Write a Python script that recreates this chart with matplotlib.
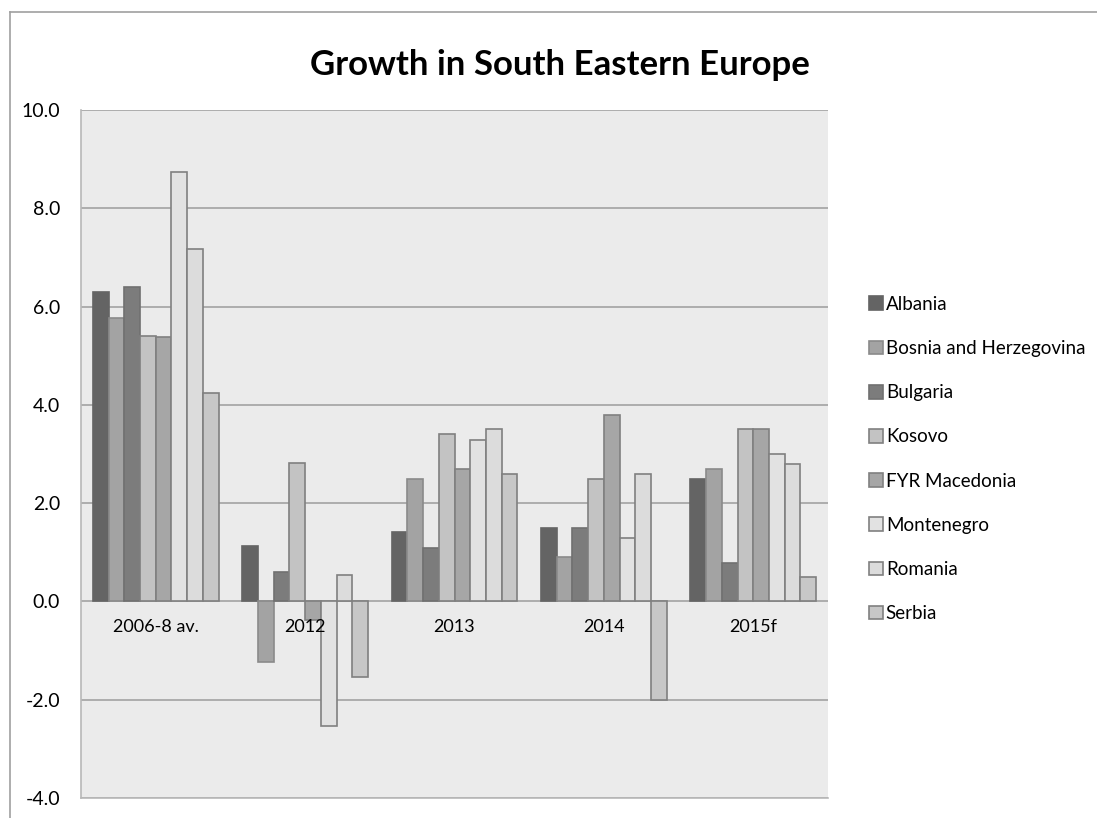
import matplotlib
matplotlib.use("Agg")
import matplotlib.pyplot as plt
import numpy as np
from matplotlib.lines import Line2D

categories = ["2006-8 av.", "2012", "2013", "2014", "2015f"]
countries = ["Albania", "Bosnia and Herzegovina", "Bulgaria", "Kosovo",
             "FYR Macedonia", "Montenegro", "Romania", "Serbia"]
albania = [6.29, 1.13, 1.41, 1.5, 2.5]
bosnia = [5.77, -1.23, 2.49, 0.9, 2.69]
bulgaria = [6.39, 0.6, 1.08, 1.5, 0.79]
kosovo = [5.41, 2.82, 3.4, 2.5, 3.5]
macedonia = [5.39, -0.38, 2.69, 3.8, 3.5]
montenegro = [8.74, -2.54, 3.29, 1.3, 3.0]
romania = [7.18, 0.54, 3.5, 2.6, 2.8]
serbia = [4.25, -1.53, 2.6, -2.0, 0.5]
yticks = [-4.0, -2.0, 0.0, 2.0, 4.0, 6.0, 8.0, 10.0]

series = [albania, bosnia, bulgaria, kosovo, macedonia, montenegro, romania, serbia]
fills = ["#646464", "#a3a3a3", "#7c7c7c", "#c3c3c3", "#a6a6a6", "#e2e2e2", "#dcdcdc", "#c7c7c7"]
edges = ["#646464", "#8a8a8a", "#707070", "#808080", "#808080", "#808080", "#808080", "#808080"]

plt.rcParams['font.family'] = ['Lato', 'DejaVu Sans']
fig = plt.figure(figsize=(10.97, 8.18), dpi=100)
ax = fig.add_axes([81 / 1097, 1 - 798 / 818, (828 - 81) / 1097, (798 - 110) / 818])
ax.set_facecolor("#ebebeb")

n = len(series)
gap = 1.5
w = 1.0 / (n + gap)
x = np.arange(len(categories))
for i, (vals, fc, ec, name) in enumerate(zip(series, fills, edges, countries)):
    offs = (i - (n - 1) / 2) * w
    ax.bar(x + offs, vals, width=w, color=fc, edgecolor=ec, linewidth=1.2,
           label=name, zorder=3)

ax.set_xlim(-0.5, len(categories) - 0.5)
ax.set_ylim(-4, 10)
ax.set_yticks(yticks)
ax.set_yticklabels([f"{v:.1f}" for v in yticks], fontsize=14)
ax.tick_params(axis='y', length=0, pad=15)
ax.tick_params(axis='x', length=0, labelbottom=False)
ax.yaxis.grid(True, color="#a8a8a8", linewidth=1.3, zorder=1)
for s in ax.spines.values():
    s.set_color("#b8b8b8")
    s.set_linewidth(1.2)
ax.spines['top'].set_visible(False)
ax.spines['right'].set_visible(False)

for xi, c in zip(x, categories):
    ax.text(xi, -0.53, c, ha='center', va='center', fontsize=13, zorder=4)

fig.suptitle("Growth in South Eastern Europe", x=560 / 1097, y=1 - 65 / 818,
             va='center', fontsize=25, fontweight='bold')

handles = [plt.Rectangle((0, 0), 1, 1, facecolor=fc, edgecolor=ec, linewidth=1.2)
           for fc, ec in zip(fills, edges)]
fig.legend(handles, countries, loc='center left',
           bbox_to_anchor=(852 / 1097, 1 - 459 / 818), frameon=False,
           fontsize=13.5, handlelength=0.75, handleheight=0.75,
           handletextpad=0.15, labelspacing=1.45)

# outer chart border
fig.add_artist(Line2D([10 / 1097, 1], [1 - 12 / 818, 1 - 12 / 818],
                      transform=fig.transFigure, color="#a0a0a0", linewidth=1.2))
fig.add_artist(Line2D([10 / 1097, 10 / 1097], [0, 1 - 12 / 818],
                      transform=fig.transFigure, color="#a0a0a0", linewidth=1.2))

fig.savefig("out.png", dpi=100)
